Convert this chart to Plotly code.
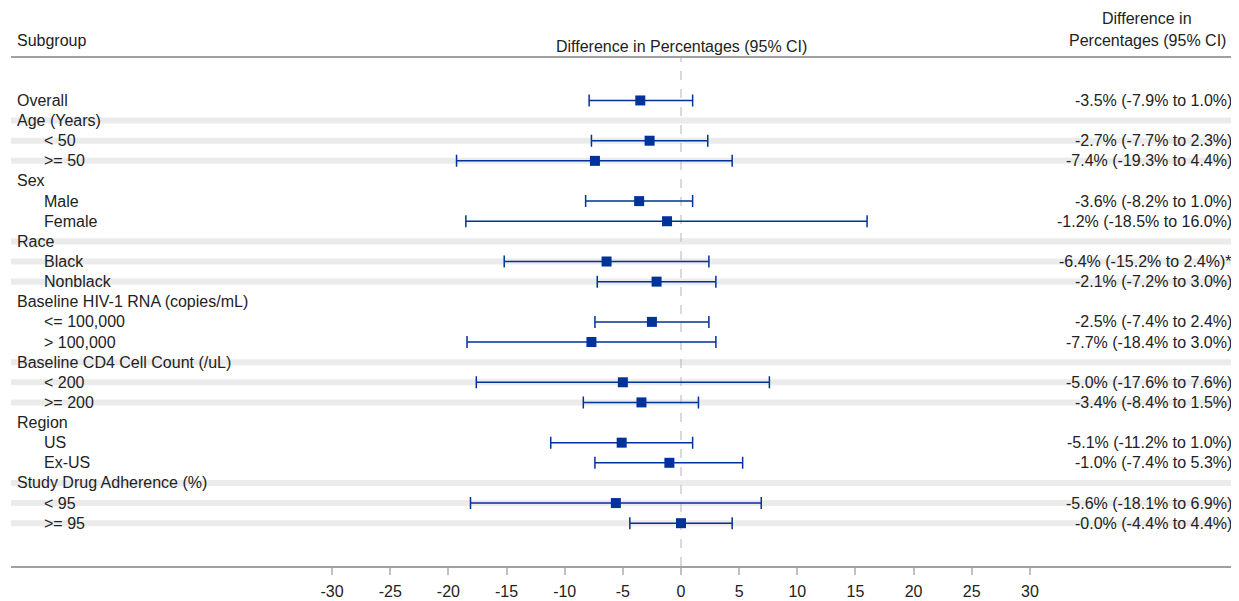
import plotly.graph_objects as go

labels = ["Overall", "Age (Years)", "< 50", ">= 50", "Sex", "Male", "Female",
          "Race", "Black", "Nonblack", "Baseline HIV-1 RNA (copies/mL)", "<= 100,000",
          "> 100,000", "Baseline CD4 Cell Count (/uL)", "< 200", ">= 200", "Region",
          "US", "Ex-US", "Study Drug Adherence (%)", "< 95", ">= 95"]
is_sub = [False, False, True, True, False, True, True, False, True, True, False, True,
          True, False, True, True, False, True, True, False, True, True]
est = [-3.5, None, -2.7, -7.4, None, -3.6, -1.2, None, -6.4, -2.1, None, -2.5, -7.7,
       None, -5.0, -3.4, None, -5.1, -1.0, None, -5.6, -0.0]
lower = [-7.9, None, -7.7, -19.3, None, -8.2, -18.5, None, -15.2, -7.2, None, -7.4, -18.4,
         None, -17.6, -8.4, None, -11.2, -7.4, None, -18.1, -4.4]
upper = [1.0, None, 2.3, 4.4, None, 1.0, 16.0, None, 2.4, 3.0, None, 2.4, 3.0,
         None, 7.6, 1.5, None, 1.0, 5.3, None, 6.9, 4.4]
suffix = ["", "", "", "", "", "", "", "", "*", "", "", "", "", "", "", "", "", "", "", "", "", ""]
banded_rows = [1, 2, 3, 7, 8, 9, 13, 14, 15, 19, 20, 21]
tick_vals = [-30, -25, -20, -15, -10, -5, 0, 5, 10, 15, 20, 25, 30]

BLUE = "#003399"
TXT = "#222222"
FONT = "Liberation Sans, Arial, sans-serif"
FS = 16

OFF = 8  # page body margin
SCR_W, SCR_H = 1239, 601
W, H = SCR_W - OFF, SCR_H - OFF
# target screen pixel positions
plot_left, plot_right, plot_top, plot_bottom = 11, 1239, 57.5, 566
ML = plot_left - OFF
MR = W - (plot_right - OFF)
MT = plot_top - OFF
MB = H - (plot_bottom - OFF)
pw = W - ML - MR
ph = H - MT - MB
px_per_unit = 11.63
zero_px = 681
x_lo = (plot_left - zero_px) / px_per_unit
x_hi = (plot_right - zero_px) / px_per_unit
row_px = 20.15
first_row_px = 100
y_top = -(first_row_px - plot_top) / row_px
y_bot = (plot_bottom - first_row_px) / row_px

def px2paper_x(p):
    return (p - plot_left) / pw

def px2paper_y(p):
    return (plot_bottom - p) / ph

idx = [i for i, e in enumerate(est) if e is not None]
xs = [est[i] for i in idx]
ys = [i for i in idx]
ep = [upper[i] - est[i] for i in idx]
em = [est[i] - lower[i] for i in idx]

fig = go.Figure()
fig.add_trace(go.Scatter(
    x=xs, y=ys, mode="markers",
    marker=dict(symbol="square", size=10, color=BLUE),
    error_x=dict(type="data", symmetric=False, array=ep, arrayminus=em,
                 color=BLUE, thickness=1.5, width=6),
    hoverinfo="skip", showlegend=False,
))

shapes = []
for r in banded_rows:
    shapes.append(dict(type="rect", xref="paper", yref="y", x0=0, x1=1,
                       y0=r - 0.15, y1=r + 0.15, fillcolor="#ebebeb",
                       line=dict(width=0), layer="below"))
shapes.append(dict(type="line", xref="x", yref="paper", x0=0, x1=0, y0=0, y1=1,
                   line=dict(color="#b5b5b5", width=1, dash="dash"), layer="below"))

tfont = dict(family=FONT, size=FS, color=TXT)
annotations = []
for i, lab in enumerate(labels):
    xp = 42 if is_sub[i] else 15
    annotations.append(dict(text=lab, xref="paper", yref="y", x=px2paper_x(xp), y=i,
                            xanchor="left", yanchor="middle", showarrow=False, font=tfont))
for i in idx:
    t = f"{est[i]:.1f}% ({lower[i]:.1f}% to {upper[i]:.1f}%){suffix[i]}"
    annotations.append(dict(text=t, xref="paper", yref="y", x=px2paper_x(1234), y=i,
                            xanchor="right", yanchor="middle", showarrow=False, font=tfont))
annotations += [
    dict(text="Subgroup", xref="paper", yref="paper", x=px2paper_x(15), y=px2paper_y(40),
         xanchor="left", yanchor="middle", showarrow=False, font=tfont),
    dict(text="Difference in Percentages (95% CI)", xref="x", yref="paper", x=0,
         y=px2paper_y(46), xanchor="center", yanchor="middle", showarrow=False, font=tfont),
    dict(text="Difference in", xref="paper", yref="paper", x=px2paper_x(1147),
         y=px2paper_y(18), xanchor="center", yanchor="middle", showarrow=False, font=tfont),
    dict(text="Percentages (95% CI)", xref="paper", yref="paper", x=px2paper_x(1147),
         y=px2paper_y(40), xanchor="center", yanchor="middle", showarrow=False, font=tfont),
]

fig.update_layout(
    width=W, height=H,
    margin=dict(l=ML, r=MR, t=MT, b=MB, pad=0),
    paper_bgcolor="white", plot_bgcolor="white",
    shapes=shapes, annotations=annotations,
    xaxis=dict(range=[x_lo, x_hi], tickvals=tick_vals, ticktext=[str(v) for v in tick_vals],
               showgrid=False, zeroline=False, showline=True, mirror=True,
               linecolor="#a0a0a0", linewidth=1.5, ticks="outside", ticklen=7,
               tickcolor="#c0c0c0", tickwidth=1.5, tickfont=tfont,
               ticklabelstandoff=3),
    yaxis=dict(range=[y_bot, y_top], showgrid=False, zeroline=False, showline=False,
               showticklabels=False, ticks=""),
)

fig.write_html("out.html")
